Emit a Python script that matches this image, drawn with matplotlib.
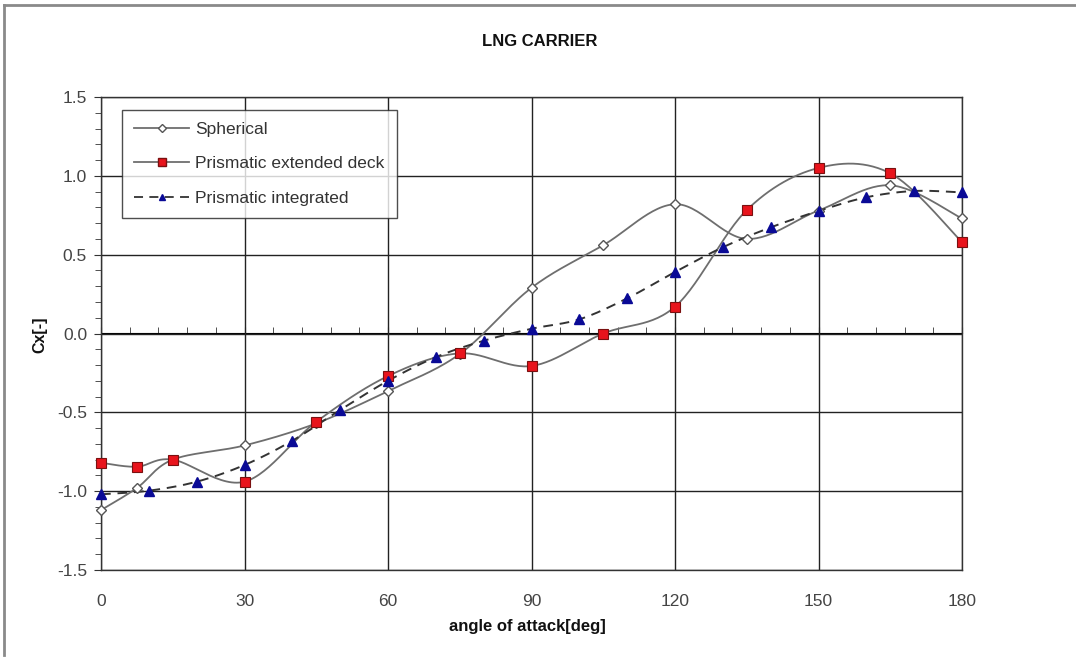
import numpy as np
import matplotlib
matplotlib.use("Agg")
import matplotlib.pyplot as plt
from matplotlib.lines import Line2D

plt.rcParams['font.family'] = ['Liberation Sans', 'DejaVu Sans']

# ---- data ----
title = "LNG CARRIER"
xlabel = "angle of attack[deg]"
ylabel = "Cx[-]"

sph_x = [0, 7.5, 15, 30, 45, 60, 75, 90, 105, 120, 135, 150, 165, 180]
sph_y = [-1.12, -0.98, -0.80, -0.71, -0.57, -0.365, -0.13, 0.29, 0.56, 0.82, 0.60, 0.78, 0.94, 0.73]

ext_x = [0, 7.5, 15, 30, 45, 60, 75, 90, 105, 120, 135, 150, 165, 180]
ext_y = [-0.82, -0.845, -0.80, -0.94, -0.56, -0.27, -0.126, -0.206, 0.0, 0.17, 0.783, 1.05, 1.016, 0.58]

int_x = [0, 10, 20, 30, 40, 50, 60, 70, 80, 90, 100, 110, 120, 130, 140, 150, 160, 170, 180]
int_y = [-1.02, -0.997, -0.94, -0.834, -0.68, -0.485, -0.30, -0.15, -0.046, 0.03, 0.09, 0.223,
         0.39, 0.547, 0.673, 0.777, 0.864, 0.904, 0.895]

x_ticks = [0, 30, 60, 90, 120, 150, 180]
y_ticks = [-1.5, -1.0, -0.5, 0.0, 0.5, 1.0, 1.5]


def smooth(xs, ys, n=30):
    """Excel-like smoothed line (Catmull-Rom through the data points)."""
    xs = np.asarray(xs, float)
    ys = np.asarray(ys, float)
    px = np.concatenate([[xs[0]], xs, [xs[-1]]])
    py = np.concatenate([[ys[0]], ys, [ys[-1]]])
    outx, outy = [], []
    t = np.linspace(0, 1, n)
    for i in range(1, len(px) - 2):
        p0x, p1x, p2x, p3x = px[i - 1], px[i], px[i + 1], px[i + 2]
        p0y, p1y, p2y, p3y = py[i - 1], py[i], py[i + 1], py[i + 2]
        c1x = p1x + (p2x - p0x) / 6
        c1y = p1y + (p2y - p0y) / 6
        c2x = p2x - (p3x - p1x) / 6
        c2y = p2y - (p3y - p1y) / 6
        bx = (1 - t) ** 3 * p1x + 3 * (1 - t) ** 2 * t * c1x + 3 * (1 - t) * t ** 2 * c2x + t ** 3 * p2x
        by = (1 - t) ** 3 * p1y + 3 * (1 - t) ** 2 * t * c1y + 3 * (1 - t) * t ** 2 * c2y + t ** 3 * p2y
        outx.extend(bx)
        outy.extend(by)
    return np.array(outx), np.array(outy)


W, H = 1076, 659
fig = plt.figure(figsize=(W / 100, H / 100), dpi=100)
ax = fig.add_axes([101 / W, 1 - 570 / H, (962 - 101) / W, (570 - 97) / H])

ax.set_xlim(0, 180)
ax.set_ylim(-1.5, 1.5)
ax.set_xticks(x_ticks)
ax.set_yticks(y_ticks)
ax.set_yticklabels([f"{v:.1f}" for v in y_ticks])
ax.set_yticks(np.arange(-1.5, 1.5001, 0.1), minor=True)
ax.grid(True, which='major', color='#222222', linewidth=1.0)
ax.set_axisbelow(True)
for s in ax.spines.values():
    s.set_color('#333333')
    s.set_linewidth(1.0)

ax.tick_params(axis='x', which='both', length=0, pad=17, labelsize=12.5, labelcolor='#444444')
ax.tick_params(axis='y', which='major', length=5, direction='out', pad=5, labelsize=12.5,
               labelcolor='#444444', color='#333333')
ax.tick_params(axis='y', which='minor', length=4, direction='out', color='#333333')

# x axis crossing at y = 0 with minor ticks
sec = ax.secondary_xaxis(0.5)
sec.set_xticks(x_ticks)
sec.set_xticks(np.arange(0, 181, 6), minor=True)
sec.tick_params(axis='x', which='both', direction='out', length=4, labelbottom=False,
                labeltop=False, color='#333333')
sec.spines['bottom'].set_color('#222222')
sec.spines['bottom'].set_linewidth(1.0)

gray = '#6e6e6e'
sx, sy = smooth(sph_x, sph_y)
ax.plot(sx, sy, color=gray, lw=1.3, zorder=3)
ax.plot(sph_x, sph_y, ls='none', marker='D', ms=5, mfc='white', mec='#555555', mew=1.0,
        zorder=4, clip_on=False)

ex, ey = smooth(ext_x, ext_y)
ax.plot(ex, ey, color=gray, lw=1.3, zorder=3)
ax.plot(ext_x, ext_y, ls='none', marker='s', ms=7, mfc='#e8141c', mec='#7a1010', mew=0.8,
        zorder=5, clip_on=False)

ix, iy = smooth(int_x, int_y)
ax.plot(ix, iy, color='#333333', lw=1.4, ls=(0, (5, 3.5)), zorder=3)
ax.plot(int_x, int_y, ls='none', marker='^', ms=6.5, mfc='#0a0a96', mec='#0a0a96',
        zorder=6, clip_on=False)

handles = [
    Line2D([], [], color=gray, lw=1.3, marker='D', ms=4, mfc='white', mec='#555555'),
    Line2D([], [], color=gray, lw=1.3, marker='s', ms=6, mfc='#e8141c', mec='#7a1010'),
    Line2D([], [], color='#333333', lw=1.3, ls=(0, (5, 3.5)), marker='^', ms=5,
           mfc='#0a0a96', mec='#0a0a96'),
]
leg = ax.legend(handles, ["Spherical", "Prismatic extended deck", "Prismatic integrated"],
                loc='upper left', bbox_to_anchor=(0.024, 0.973), fontsize=12.5,
                frameon=True, fancybox=False, borderpad=0.7, labelspacing=1.1,
                handlelength=3.2, handletextpad=0.35, borderaxespad=0)
leg.get_frame().set_edgecolor('#222222')
leg.get_frame().set_linewidth(1.0)
for t in leg.get_texts():
    t.set_color('#333333')

fig.text(540 / W, 1 - 42 / H, title, ha='center', va='center', fontsize=12,
         fontweight='bold', color='#111111')
fig.text(527 / W, 1 - 627 / H, xlabel, ha='center', va='center', fontsize=12,
         fontweight='bold', color='#111111')
fig.text(40 / W, 1 - 335 / H, ylabel, ha='center', va='center', rotation=90, fontsize=11.5,
         fontweight='bold', color='#111111')

# page frame lines
fig.add_artist(Line2D([4 / W, 1], [1 - 5 / H, 1 - 5 / H], color='#8a8a8a', lw=2,
                      transform=fig.transFigure))
fig.add_artist(Line2D([4 / W, 4 / W], [1 - 5 / H, 1 - 655 / H], color='#8a8a8a', lw=2,
                      transform=fig.transFigure))

fig.savefig("out.png", dpi=100)
